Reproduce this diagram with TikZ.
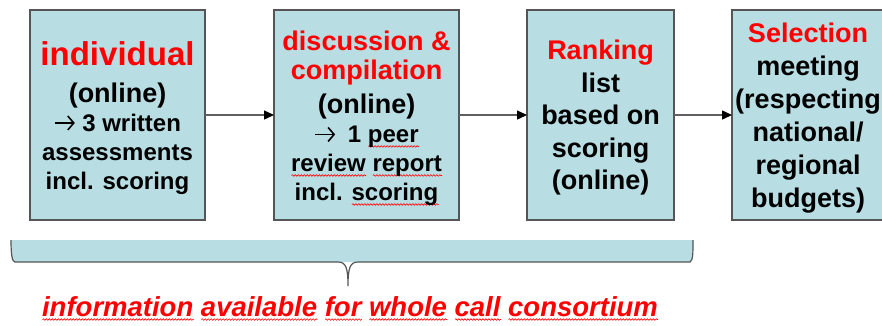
\documentclass[tikz,border=0pt]{standalone}
\usepackage{fontspec}
\setmainfont{Liberation Sans}
\usetikzlibrary{positioning,arrows.meta,decorations.pathmorphing}

\definecolor{boxblue}{RGB}{184,222,227}
\definecolor{edgegray}{RGB}{85,85,85}
% red wavy underline, as the spell checker draws it
\newsavebox\sqbox
\newcommand\squig[1]{\sbox\sqbox{#1}\rlap{\tikz[baseline=0pt]\draw[red,fill=none,line width=0.6pt,
    decorate,decoration={snake,amplitude=0.8pt,segment length=3pt}] (0pt,-3.5pt) -- (\wd\sqbox,-3.5pt);}\usebox\sqbox}
% red heading line
\newcommand\hd[2]{{\color{red}\fontsize{#1}{#1}\selectfont #2}}
% arrow in the text
\newcommand\toarrow{\tikz[baseline=0pt]\draw[black,fill=none,line width=1.6pt,
    -{Straight Barb[length=6pt,width=14pt,line width=1.6pt]}] (0pt,8.5pt) -- (20pt,8.5pt);}
\newcommand\lift[1]{\rule{0pt}{#1}}

\begin{document}
\begin{tikzpicture}[x=1pt,y=-1pt,
    stage/.style={draw=edgegray,line width=1.8pt,fill=boxblue,minimum height=210pt,
      inner sep=0pt,outer sep=0pt,align=center},
    flow/.style={draw=gray!75!black,line width=1.4pt,-{Triangle[length=10pt,width=9pt,black]}}]
    \useasboundingbox (0,0) rectangle (882,325);
    % 
    \node[stage,minimum width=175pt,font=\bfseries\fontsize{24}{29}\selectfont] (indiv) at (117.5,115)
      {\hd{33}{\lift{30pt}individual}\\[8pt] {\fontsize{27}{27}\selectfont (online)}\\ \toarrow\ 3 written\\ assessments\\ incl. scoring};
    \node[stage,minimum width=185pt,font=\bfseries\fontsize{24}{29}\selectfont,right=69pt of indiv] (discuss)
      {\hd{27}{\lift{27pt}discussion \&}\\ \hd{27}{compilation}\\[5pt] {\fontsize{27}{27}\selectfont (online)}\\
       \toarrow\enspace 1 \squig{peer}\\ \squig{review} \squig{report}\\ incl. \squig{scoring}};
    \node[stage,minimum width=147pt,font=\bfseries\fontsize{27}{32.5}\selectfont,right=68pt of discuss] (ranking)
      {\hd{27}{\lift{25pt}Ranking}\\ list\\ based on\\ scoring\\ (online)};
    \node[stage,minimum width=152pt,font=\bfseries\fontsize{27}{33}\selectfont,right=58pt of ranking] (select)
      {\hd{27}{\lift{26pt}Selection}\\ meeting\\ (respecting\\ national/\\ regional\\ budgets)};
    % 
    \draw[flow] (indiv) -- (discuss);
    \draw[flow] (discuss) -- (ranking);
    \draw[flow] (ranking) -- (select);
    % 
    \fill[boxblue] (11,240) .. controls (11,254) and (12,262) .. (15,262) -- (690,262)
      .. controls (693,260) and (693,254) .. (693,240) -- cycle;
    \draw[edgegray,line width=1.2pt] (11,240) .. controls (11,254) and (12,262) .. (15,262) -- (338,262)
      .. controls (346,262) and (348,268) .. (348,286) coordinate (tip)
      .. controls (348,268) and (350,262) .. (358,262) -- (690,262)
      .. controls (693,260) and (693,254) .. (693,240);
    \node[text=red,font=\bfseries\itshape\fontsize{27.5}{27.5}\selectfont,anchor=base] (info) at (350,316)
      {\squig{information} \squig{available} \squig{for} \squig{whole} \squig{call} \squig{consortium}};
  \end{tikzpicture}
\end{document}
